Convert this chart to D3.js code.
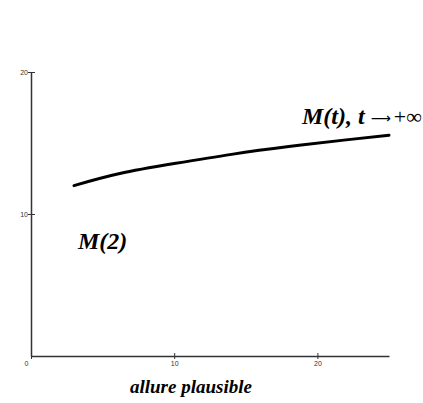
<!DOCTYPE html>
<html>
<head>
<meta charset="utf-8">
<script src="https://cdn.jsdelivr.net/npm/d3@7"></script>
<style>
  html, body { margin: 0; padding: 0; background: #fff; }
  svg { display: block; }
  .tick text { font-family: "Liberation Sans", Arial, sans-serif; font-size: 7px; fill: #333; }
  .lbl { font-family: "Liberation Serif", "Times New Roman", serif; font-weight: bold; font-style: italic; fill: #000; }
</style>
</head>
<body>
<script>
// Plausible shape of M(t): slowly increasing, levelling toward a limit
const tValues = [3, 6.2, 10, 14, 18, 22, 25];
const mValues = [12.0, 12.85, 13.55, 14.2, 14.75, 15.22, 15.55];
const xTicks = [0, 10, 20];
const yTicks = [10, 20];

const width = 423, height = 403;
const x = d3.scaleLinear().domain([0, 25]).range([31, 389]);
const y = d3.scaleLinear().domain([0, 20]).range([356, 72]);

const svg = d3.select("body").append("svg")
  .attr("width", width).attr("height", height);

// x axis
const xAxis = svg.append("g")
  .attr("transform", `translate(0,${y(0)})`)
  .call(d3.axisBottom(x).tickValues(xTicks).tickSize(3).tickSizeOuter(0));
xAxis.select(".domain").attr("stroke", "#333").attr("stroke-width", 1.5);
xAxis.selectAll(".tick line").attr("stroke", "#333").attr("y1", -3).attr("y2", 3);
xAxis.selectAll(".tick text").attr("y", 5);
xAxis.selectAll(".tick").filter(d => d === 0).select("text").attr("dx", -5);

// y axis
const yAxis = svg.append("g")
  .attr("transform", `translate(${x(0)},0)`)
  .call(d3.axisLeft(y).tickValues(yTicks).tickSize(3).tickSizeOuter(0));
yAxis.select(".domain").attr("stroke", "#333").attr("stroke-width", 1.5);
yAxis.selectAll(".tick line").attr("stroke", "#333").attr("x1", -3).attr("x2", 4);
yAxis.selectAll(".tick text").attr("x", -3);

// curve
const line = d3.line()
  .x((d, i) => x(tValues[i]))
  .y(d => y(d))
  .curve(d3.curveNatural);
svg.append("path")
  .datum(mValues)
  .attr("fill", "none")
  .attr("stroke", "#000")
  .attr("stroke-width", 3)
  .attr("stroke-linecap", "round")
  .attr("d", line);

// annotations
const limitLabel = svg.append("text").attr("class", "lbl")
  .attr("x", 302).attr("y", 124).style("font-size", "24px");
limitLabel.append("tspan").text("M(t), t ");
limitLabel.append("tspan")
  .attr("dy", -1)
  .style("font-family", "'DejaVu Sans', sans-serif")
  .style("font-weight", "normal").style("font-style", "normal")
  .style("font-size", "14px")
  .text("\u27F6");
limitLabel.append("tspan").attr("dx", 3).attr("dy", 1)
  .style("font-weight", "normal").style("font-style", "normal")
  .style("font-size", "22px")
  .text("+\u221E");

svg.append("text").attr("class", "lbl")
  .attr("x", 78).attr("y", 249).style("font-size", "24px")
  .text("M(2)");

svg.append("text").attr("class", "lbl")
  .attr("x", 130).attr("y", 393).style("font-size", "19px")
  .text("allure plausible");
</script>
</body>
</html>
